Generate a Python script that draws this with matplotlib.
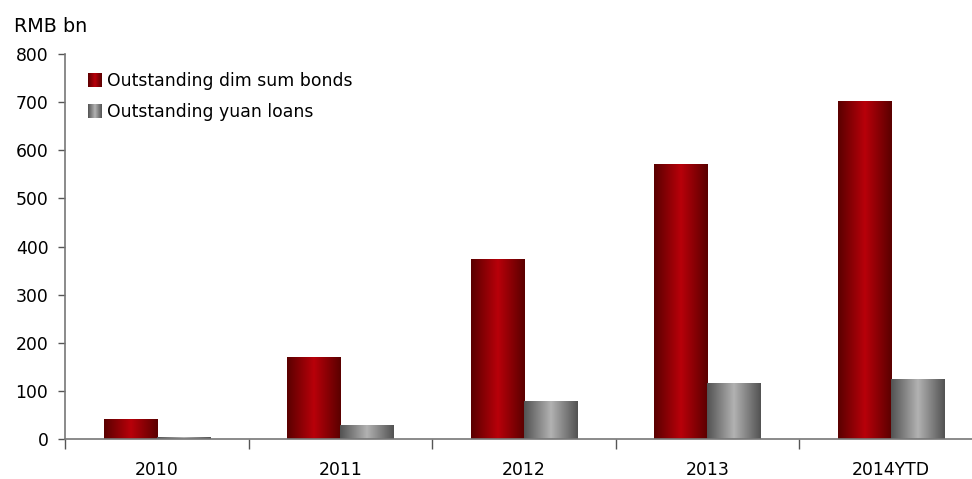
import numpy as np
import matplotlib
matplotlib.use("Agg")
import matplotlib.pyplot as plt
from matplotlib.patches import Rectangle
from matplotlib.legend_handler import HandlerBase
from matplotlib.colors import LinearSegmentedColormap

categories = ["2010", "2011", "2012", "2013", "2014YTD"]
dim_sum_bonds = [40, 170, 372, 571, 701]
yuan_loans = [4, 29, 77, 116, 123]
series_names = ["Outstanding dim sum bonds", "Outstanding yuan loans"]
y_ticks = [0, 100, 200, 300, 400, 500, 600, 700, 800]
unit_label = "RMB bn"

plt.rcParams['font.family'] = ['DejaVu Sans']
FS = 12.4

red_cmap = LinearSegmentedColormap.from_list(
    "redg", [(0.0, "#5a0000"), (0.5, "#b8000a"), (1.0, "#5a0000")])
gray_cmap = LinearSegmentedColormap.from_list(
    "grayg", [(0.0, "#525252"), (0.5, "#b2b2b2"), (1.0, "#525252")])

fig = plt.figure(figsize=(9.72, 4.79), dpi=100)
ax = fig.add_axes([65 / 972, 40 / 479, 917.5 / 972, 385 / 479])

x = np.arange(len(categories))
w = 0.29
bars1 = ax.bar(x - w / 2, dim_sum_bonds, w, color="none", edgecolor="none")
bars2 = ax.bar(x + w / 2, yuan_loans, w, color="none", edgecolor="none")

grad = np.linspace(0, 1, 256).reshape(1, -1)
for bars, cmap in ((bars1, red_cmap), (bars2, gray_cmap)):
    for b in bars:
        x0, w0, h0 = b.get_x(), b.get_width(), b.get_height()
        ax.imshow(grad, cmap=cmap, aspect="auto",
                  extent=(x0, x0 + w0, 0, h0), interpolation="bilinear", zorder=2)

ax.set_xlim(-0.5, len(categories) - 0.5)
ax.set_ylim(0, 800)
ax.set_yticks(y_ticks)
ax.set_yticklabels([str(t) for t in y_ticks], fontsize=FS)
ax.set_xticks(x)
ax.set_xticklabels(categories, fontsize=FS)
ax.set_xticks(np.arange(len(categories) + 1) - 0.5, minor=True)
ax.tick_params(axis="x", which="major", length=0, pad=16)
ax.tick_params(axis="x", which="minor", length=7, width=1, color="#555555", direction="out")
ax.tick_params(axis="y", length=5, width=1, color="#555555", direction="out", pad=7)

for s in ("top", "right"):
    ax.spines[s].set_visible(False)
for s in ("left", "bottom"):
    ax.spines[s].set_color("#777777")
    ax.spines[s].set_linewidth(1.2)


class GradHandler(HandlerBase):
    def __init__(self, cmap):
        super().__init__()
        self.cmap = cmap

    def create_artists(self, legend, orig_handle, xdescent, ydescent, width,
                       height, fontsize, trans):
        arts = []
        n = 14
        size = width
        x0 = 0
        y0 = (height - size) / 2
        for i in range(n):
            c = self.cmap((i + 0.5) / n)
            arts.append(Rectangle((x0 + i * size / n - xdescent, y0 - ydescent),
                                  size / n * 1.05, size, facecolor=c,
                                  edgecolor="none", transform=trans))
        return arts


h1 = Rectangle((0, 0), 1, 1)
h2 = Rectangle((0, 0), 1, 1)
ax.legend([h1, h2], series_names,
          handler_map={h1: GradHandler(red_cmap), h2: GradHandler(gray_cmap)},
          loc="upper left", bbox_to_anchor=(16 / 917.5, 1 - 11 / 385),
          frameon=False, fontsize=FS, handlelength=0.82, handletextpad=0.3,
          labelspacing=0.75, borderaxespad=0)

fig.text(14 / 972, 1 - 27 / 479, unit_label, fontsize=13.8, va="center", ha="left")

fig.savefig("out.png", dpi=100)
